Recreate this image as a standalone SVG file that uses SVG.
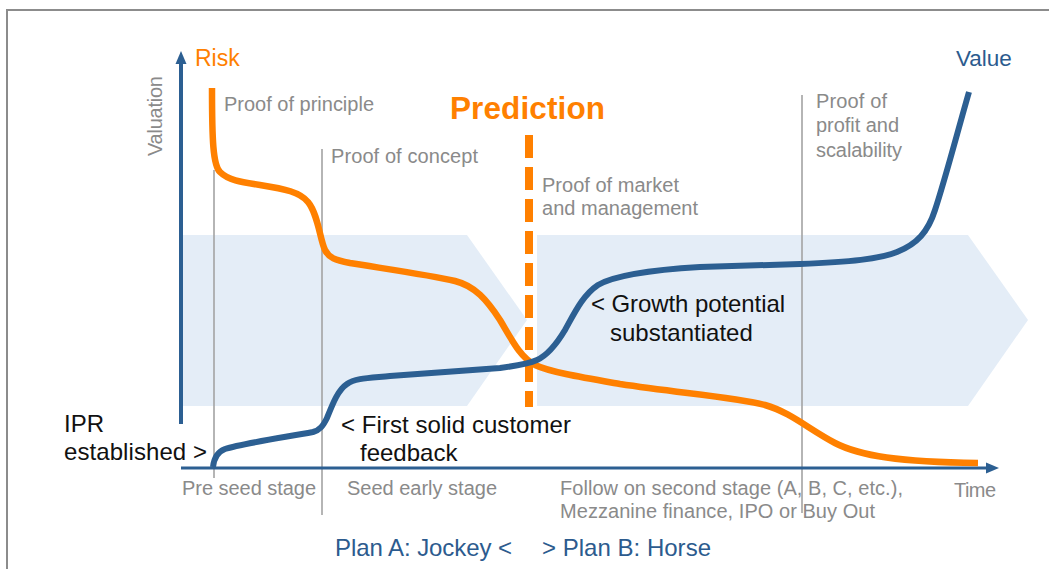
<svg xmlns="http://www.w3.org/2000/svg" width="1049" height="569" viewBox="0 0 1049 569">
  <style>
    text { font-family: "Liberation Sans", Arial, sans-serif; }
    .gray { fill: #8a8a8a; font-size: 20px; }
    .black { fill: #111111; font-size: 24px; }
    .blue { fill: #2c5b8e; font-size: 24px; }
    .orange { fill: #ff8000; }
    .stage { stroke: #a3a3a3; stroke-width: 1.6; fill: none; }
    .band { fill: #e4edf7; }
    .axis { stroke: #2c5f92; fill: none; }
  </style>
  <rect width="1049" height="569" fill="#ffffff"/>
  <path d="M7,569 L7,10 L1049,10" stroke="#8c8c8c" stroke-width="2" fill="none"/>

  <g id="band">
    <polygon class="band" points="181,235 467,235 527,320 467,406 181,406"/>
    <polygon class="band" points="537,235 968,235 1028,320 968,406 537,406"/>
  </g>

  <g id="stage-lines">
    <line class="stage" x1="214" y1="170" x2="214" y2="478"/>
    <line class="stage" x1="322" y1="149" x2="322" y2="515"/>
    <line class="stage" x1="802" y1="95" x2="802" y2="513"/>
  </g>

  <g id="axes">
    <line class="axis" x1="181" y1="62" x2="181" y2="424" stroke-width="4"/>
    <polygon points="181,51 175.5,64 186.5,64" fill="#2c5f92"/>
    <line class="axis" x1="181" y1="468" x2="989" y2="468" stroke-width="3"/>
    <polygon points="999,468 986,462.5 986,473.5" fill="#2c5f92"/>
  </g>

  <g id="prediction-line">
    <line x1="529" y1="135" x2="529" y2="407" stroke="#ff8000" stroke-width="8" stroke-dasharray="23 9"/>
  </g>

  <g id="curves">
    <path id="risk-curve" d="M212,88 C212,140 213,165 220,172 C228,180 240,182 260,185 C285,189 300,192 308,202 C318,214 320,240 325,250 C329,258 335,260 350,263 C380,268 430,275 455,281 C475,286 487,300 500,320 C512,340 520,357 535,365 C550,372 580,377 620,384 C680,393 740,398 765,405 C790,412 810,430 835,443 C860,456 900,462 978,463" stroke="#ff8000" stroke-width="6.5" fill="none"/>
    <path id="value-curve" d="M213,467 C214,458 217,452 225,449 C240,444 280,438 313,432 C320,430 323,426 327,418 C333,403 338,390 347,384 C355,378 370,378 390,376 L500,368 C515,366 528,364 537,360 C548,355 556,345 565,330 C575,312 583,295 598,285 C615,275 650,270 700,267 L800,264 C850,262 880,259 897,252 C917,244 928,232 935,210 C945,180 958,130 969,92" stroke="#2c5f92" stroke-width="6" fill="none"/>
  </g>

  <g id="labels">
    <text class="orange" x="195" y="66" font-size="23">Risk</text>
    <text class="gray" transform="translate(162,156) rotate(-90)" textLength="80">Valuation</text>
    <text class="gray" x="224" y="111" textLength="150">Proof of principle</text>
    <text class="gray" x="331" y="163" textLength="147">Proof of concept</text>
    <text class="orange" x="450" y="119" font-size="31.5" font-weight="bold" textLength="155">Prediction</text>
    <text class="gray" x="542" y="192" textLength="137">Proof of market</text>
    <text class="gray" x="542" y="215" textLength="156">and management</text>
    <text class="gray" x="816" y="108" textLength="71">Proof of</text>
    <text class="gray" x="816" y="132" textLength="83">profit and</text>
    <text class="gray" x="816" y="157" textLength="86">scalability</text>
    <text x="956" y="66" font-size="22.5" fill="#2c5b8e">Value</text>
    <text class="black" x="591" y="312" textLength="194">&lt; Growth potential</text>
    <text class="black" x="610" y="341">substantiated</text>
    <text class="black" x="64" y="432">IPR</text>
    <text class="black" x="64" y="460" textLength="143">established &gt;</text>
    <text class="black" x="341" y="433" textLength="230">&lt; First solid customer</text>
    <text class="black" x="360" y="461">feedback</text>
    <text class="gray" x="182" y="495" textLength="134">Pre seed stage</text>
    <text class="gray" x="347" y="495" textLength="150">Seed early stage</text>
    <text class="gray" x="560" y="495" textLength="343">Follow on second stage (A, B, C, etc.),</text>
    <text class="gray" x="560" y="518" textLength="315">Mezzanine finance, IPO or Buy Out</text>
    <text class="gray" x="954" y="497" textLength="42">Time</text>
    <text class="blue" x="335" y="556" textLength="177">Plan A: Jockey &lt;</text>
    <text class="blue" x="542" y="556" textLength="169">&gt; Plan B: Horse</text>
  </g>
</svg>
